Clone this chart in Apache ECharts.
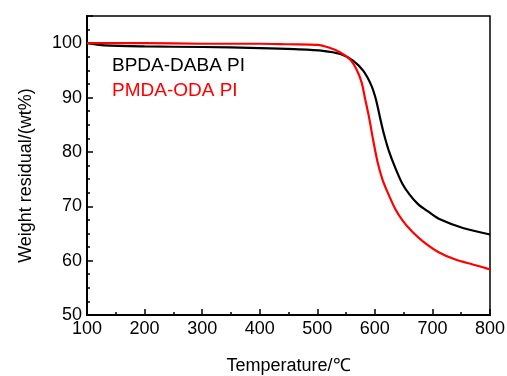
<!DOCTYPE html>
<html>
<head>
<meta charset="utf-8">
<script src="https://cdn.jsdelivr.net/npm/echarts@6/dist/echarts.min.js"></script>
<style>html,body{margin:0;padding:0;background:#fff}#c{width:507px;height:376px}</style>
</head>
<body>
<div id="c"></div>
<script>
const seriesNames = ['BPDA-DABA PI', 'PMDA-ODA PI'];
const xTitle = 'Temperature/℃';
const yTitle = 'Weight residual/(wt%)';
const bpdaTemp = [100,130,200,300,400,460,510,540,562,580,594,602,609,616,624,635,648,660,675,693,713,753,800];
const bpdaWeight = [100.0,99.6,99.4,99.3,99.1,98.9,98.6,98.0,96.8,94.9,92.2,89.6,86.3,83.2,80.3,77.2,74.1,72.2,70.4,69.0,67.6,66.0,64.8];
const pmdaTemp = [100,200,300,400,450,500,520,540,557,568,577,583,590,597,605,613,622,635,648,665,684,710,740,770,800];
const pmdaWeight = [100.0,100.0,99.9,99.9,99.8,99.7,99.2,98.3,97.0,95.2,92.8,89.8,86.3,82.2,78.0,75.0,72.6,69.6,67.4,65.3,63.5,61.6,60.2,59.3,58.4];

const font = 'Liberation Sans, Arial, sans-serif';
const zip = (a, b) => a.map((v, i) => [v, b[i]]);

const chart = echarts.init(document.getElementById('c'), null, {renderer: 'canvas'});
chart.setOption({
  animation: false,
  backgroundColor: '#fff',
  grid: {left: 87, right: 17, top: 16, bottom: 61, outerBoundsMode: 'none', containLabel: false, show: true, borderColor: '#000', borderWidth: 1.5, backgroundColor: 'transparent'},
  legend: {
    left: 102, top: 51, orient: 'vertical', itemGap: 6, icon: 'none', itemWidth: 0, itemHeight: 0,
    data: [
      {name: seriesNames[0], textStyle: {color: '#000'}},
      {name: seriesNames[1], textStyle: {color: '#ff0000'}}
    ],
    textStyle: {fontFamily: font, fontSize: 19}
  },
  xAxis: {
    type: 'value', min: 100, max: 800, interval: 100,
    name: xTitle, nameLocation: 'middle', nameGap: 42,
    nameTextStyle: {fontFamily: font, fontSize: 18, color: '#000'},
    axisLine: {show: true, lineStyle: {color: '#000', width: 2}},
    axisTick: {show: true, inside: true, length: 6, lineStyle: {color: '#000', width: 1.5}},
    minorTick: {show: true, splitNumber: 2, length: 3, lineStyle: {color: '#000', width: 1.5}},
    axisLabel: {fontFamily: font, fontSize: 18, color: '#000', margin: 5},
    splitLine: {show: false}
  },
  yAxis: {
    type: 'value', min: 50, max: 105, interval: 10,
    name: yTitle, nameLocation: 'middle', nameGap: 52,
    nameTextStyle: {fontFamily: font, fontSize: 18, color: '#000', padding: [0, 20, 0, 0]},
    axisLine: {show: true, lineStyle: {color: '#000', width: 2}},
    axisTick: {show: true, inside: true, length: 6, lineStyle: {color: '#000', width: 1.5}},
    minorTick: {show: true, splitNumber: 4, length: 3, lineStyle: {color: '#000', width: 1.5}},
    axisLabel: {fontFamily: font, fontSize: 18, color: '#000', margin: 5, showMaxLabel: false},
    splitLine: {show: false}
  },
  series: [
    {name: seriesNames[0], type: 'line', data: zip(bpdaTemp, bpdaWeight), showSymbol: false, smooth: 0.3, lineStyle: {color: '#000', width: 2.2}, itemStyle: {color: '#000'}, z: 2},
    {name: seriesNames[1], type: 'line', data: zip(pmdaTemp, pmdaWeight), showSymbol: false, smooth: 0.3, lineStyle: {color: '#ff0000', width: 2.2}, itemStyle: {color: '#ff0000'}, z: 3}
  ]
});
</script>
</body>
</html>
